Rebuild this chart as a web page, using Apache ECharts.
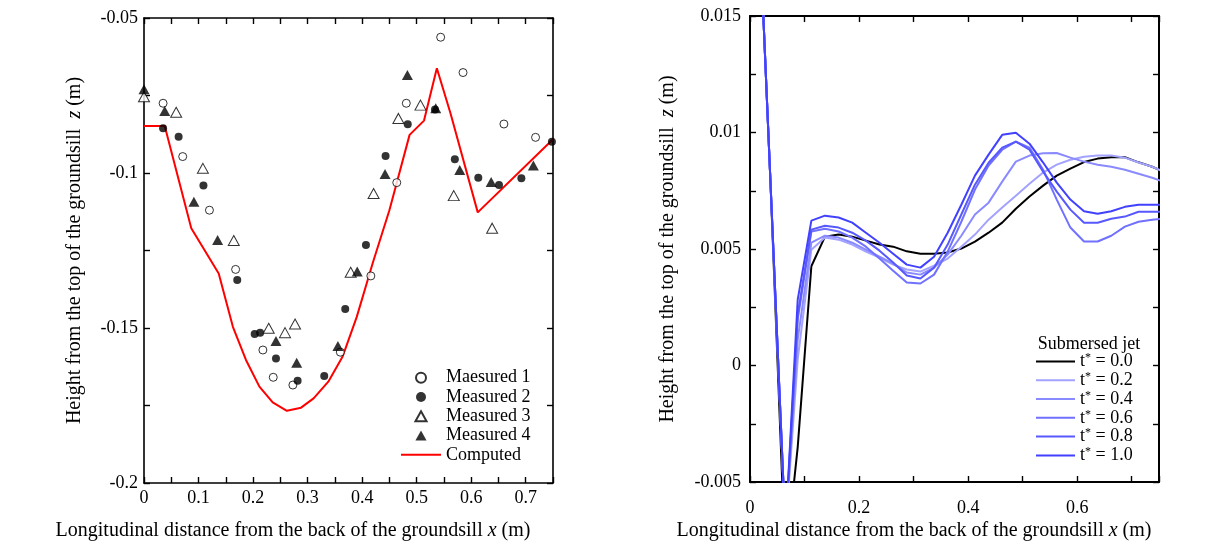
<!DOCTYPE html>
<html>
<head>
<meta charset="utf-8">
<script src="https://cdn.jsdelivr.net/npm/echarts@6/dist/echarts.min.js"></script>
<style>
  html, body { margin: 0; padding: 0; background: #fff; }
  #chart { width: 1208px; height: 549px; }
</style>
</head>
<body>
<div id="chart"></div>
<script>
// ---- Left panel: bed profile behind the groundsill ----
const m1X = [0.035, 0.071, 0.120, 0.168, 0.218, 0.237, 0.273, 0.360, 0.416, 0.4635, 0.481, 0.544, 0.585, 0.660, 0.718];
const m1Y = [-0.0775, -0.0947, -0.112, -0.1311, -0.1571, -0.1659, -0.1684, -0.1578, -0.1332, -0.1031, -0.0775, -0.0562, -0.0676, -0.0842, -0.0885];

const m2X = [0.035, 0.0635, 0.109, 0.171, 0.203, 0.213, 0.242, 0.2817, 0.3305, 0.369, 0.407, 0.443, 0.4836, 0.5336, 0.570, 0.613, 0.651, 0.692, 0.748];
const m2Y = [-0.0856, -0.0883, -0.104, -0.1345, -0.1519, -0.1515, -0.1598, -0.167, -0.1655, -0.1439, -0.1232, -0.0945, -0.0843, -0.0795, -0.0956, -0.1015, -0.1039, -0.1017, -0.0899];

const m3X = [0, 0.059, 0.108, 0.1646, 0.2287, 0.2586, 0.277, 0.379, 0.421, 0.4665, 0.507, 0.568, 0.6384];
const m3Y = [-0.0754, -0.0804, -0.0985, -0.1218, -0.1501, -0.1515, -0.1487, -0.132, -0.1066, -0.0824, -0.0781, -0.1073, -0.1178];

const m4X = [0, 0.038, 0.0915, 0.135, 0.242, 0.28, 0.3556, 0.391, 0.442, 0.483, 0.535, 0.579, 0.6366, 0.714];
const m4Y = [-0.073, -0.080, -0.1093, -0.1216, -0.1542, -0.1612, -0.1558, -0.1318, -0.1003, -0.0684, -0.0791, -0.099, -0.1029, -0.0976];

const compX = [0, 0.038, 0.0867, 0.137, 0.163, 0.187, 0.2116, 0.236, 0.262, 0.288, 0.311, 0.338, 0.364, 0.39, 0.42, 0.45, 0.487, 0.5135, 0.537, 0.562, 0.612, 0.75];
const compY = [-0.0848, -0.0848, -0.1178, -0.1324, -0.1496, -0.1603, -0.1689, -0.174, -0.1767, -0.1757, -0.1727, -0.1673, -0.1593, -0.1465, -0.1287, -0.112, -0.0877, -0.0831, -0.0662, -0.0807, -0.1127, -0.0891];

const leftNames = ['Maesured 1', 'Measured 2', 'Measured 3', 'Measured 4', 'Computed'];

// ---- Right panel: submersed jet, bed elevation at successive times ----
const jetX = [0.0125, 0.0375, 0.065, 0.0875, 0.1125, 0.1375, 0.1625, 0.1875, 0.2125, 0.2375, 0.2625, 0.2875, 0.3125,
              0.3375, 0.3625, 0.3875, 0.4125, 0.4375, 0.4625, 0.4875, 0.5125, 0.5375, 0.5625, 0.5875, 0.6125, 0.6375,
              0.6625, 0.6875, 0.7125, 0.7375, 0.7625];
const t00 = [0.0215, 0.0079, -0.0085, -0.0035, 0.00426, 0.00553, 0.00562, 0.00553, 0.00536, 0.00519, 0.00510, 0.00490, 0.00480,
             0.00480, 0.00485, 0.00502, 0.00532, 0.00570, 0.00613, 0.00673, 0.00725, 0.00772, 0.00815, 0.00845, 0.00873, 0.00888,
             0.00894, 0.00894, 0.00872, 0.00853, 0.00828];
const t02 = [0.0215, 0.0079, -0.0071, 0.00026, 0.00497, 0.00549, 0.00540, 0.00519, 0.00489, 0.00463, 0.00433, 0.00412, 0.00403,
             0.00429, 0.00459, 0.00510, 0.00562, 0.00626, 0.00678, 0.00729, 0.00780, 0.00828, 0.00862, 0.00883, 0.00896, 0.00901,
             0.00901, 0.00892, 0.00871, 0.00853, 0.00828];
const t04 = [0.0215, 0.0079, -0.0071, 0.00111, 0.00527, 0.00557, 0.00549, 0.00527, 0.00497, 0.00467, 0.00437, 0.00399, 0.00390,
             0.00420, 0.00476, 0.00557, 0.00648, 0.00699, 0.00789, 0.00875, 0.00901, 0.00911, 0.00912, 0.00892, 0.00875, 0.00862,
             0.00853, 0.00840, 0.00823, 0.00806, 0.00785];
const t06 = [0.0215, 0.0079, -0.0071, 0.00197, 0.00575, 0.00587, 0.00575, 0.00549, 0.00510, 0.00459, 0.00407, 0.00356, 0.00352,
             0.00390, 0.00489, 0.00617, 0.00755, 0.00858, 0.00926, 0.00961, 0.00935, 0.00840, 0.00712, 0.00592, 0.00532, 0.00532,
             0.00557, 0.00596, 0.00617, 0.00626, 0.00630];
const t08 = [0.0215, 0.0079, -0.0071, 0.00219, 0.00583, 0.00600, 0.00592, 0.00570, 0.00536, 0.00493, 0.00442, 0.00386, 0.00373,
             0.00420, 0.00519, 0.00648, 0.00776, 0.00870, 0.00935, 0.00961, 0.00926, 0.00832, 0.00746, 0.00669, 0.00613, 0.00613,
             0.00630, 0.00639, 0.00660, 0.00660, 0.00660];
const t10 = [0.0215, 0.0079, -0.0071, 0.00283, 0.00622, 0.00643, 0.00635, 0.00613, 0.00570, 0.00527, 0.00480, 0.00433, 0.00420,
             0.00467, 0.00570, 0.00690, 0.00815, 0.00905, 0.00990, 0.00999, 0.00952, 0.00871, 0.00785, 0.00712, 0.00662, 0.00651,
             0.00662, 0.00681, 0.00690, 0.00690, 0.00690];
const jetSeries = [t00, t02, t04, t06, t08, t10];
const jetLabels = ['0.0', '0.2', '0.4', '0.6', '0.8', '1.0'];
const jetColors = ['#000000', '#a3a3ff', '#8a8aff', '#7171ff', '#5858ff', '#4141ff'];

const FONT = 'Liberation Serif, Times New Roman, serif';
const zip = (xs, ys) => xs.map((x, i) => [x, ys[i]]);

// legend glyphs
const ICON_LINE_L = 'path://M0,0 L40,0 L40,2 L0,2 Z';
const ICON_LINE_R = 'path://M0,0 L39,0 L39,2 L0,2 Z';
const ICON_TRI = 'path://M5,0 L10,9 L0,9 Z';
const ICON_DOT = 'path://M4,0 A4,4 0 1 1 3.999,0 Z';

function stepLabel(step) {
  return function (v) {
    const k = Math.round(v / step);
    if (Math.abs(k * step - v) > 1e-9) return '';
    return String(+(k * step).toFixed(4));
  };
}

function frameAxis(extra) {
  return Object.assign({
    type: 'value',
    axisLine: { show: true, onZero: false, lineStyle: { color: '#000', width: 1.6 } },
    axisTick: { show: true, inside: true, length: 6, lineStyle: { color: '#000', width: 1.4 } },
    axisLabel: { show: false },
    splitLine: { show: false }
  }, extra);
}

const labelStyle = { color: '#000', fontFamily: FONT, fontSize: 18 };
const nameStyle = { color: '#000', fontFamily: FONT, fontSize: 20, rich: { i: { fontStyle: 'italic', fontFamily: FONT, fontSize: 20 } } };

const chart = echarts.init(document.getElementById('chart'), null, { renderer: 'canvas' });

const series = [
  { name: leftNames[0], type: 'scatter', xAxisIndex: 0, yAxisIndex: 0, data: zip(m1X, m1Y), clip: false,
    symbol: 'circle', symbolSize: 8, itemStyle: { color: '#fff', borderColor: '#000', borderWidth: 1 } },
  { name: leftNames[1], type: 'scatter', xAxisIndex: 0, yAxisIndex: 0, data: zip(m2X, m2Y), clip: false,
    symbol: 'circle', symbolSize: 8, itemStyle: { color: '#000' } },
  { name: leftNames[2], type: 'scatter', xAxisIndex: 0, yAxisIndex: 0, data: zip(m3X, m3Y), clip: false,
    symbol: 'triangle', symbolSize: [11, 10], itemStyle: { color: '#fff', borderColor: '#000', borderWidth: 1 } },
  { name: leftNames[3], type: 'scatter', xAxisIndex: 0, yAxisIndex: 0, data: zip(m4X, m4Y), clip: false,
    symbol: 'triangle', symbolSize: [11, 10], itemStyle: { color: '#000' } },
  { name: leftNames[4], type: 'line', xAxisIndex: 0, yAxisIndex: 0, data: zip(compX, compY),
    symbol: 'none', lineStyle: { color: '#ff0000', width: 2 }, itemStyle: { color: '#ff0000' }, z: 1 }
];

jetSeries.forEach((ys, i) => {
  series.push({
    name: 't*=' + jetLabels[i], type: 'line', xAxisIndex: 2, yAxisIndex: 2,
    data: zip(jetX, ys), symbol: 'none', clip: true,
    lineStyle: { color: jetColors[i], width: 2 }, itemStyle: { color: jetColors[i] },
    z: 2 + i
  });
});

chart.setOption({
  animation: false,
  backgroundColor: '#fff',
  grid: [
    { left: 144, top: 18, right: 655, bottom: 66 },
    { left: 750, top: 16, right: 49, bottom: 67 }
  ],
  xAxis: [
    frameAxis({ gridIndex: 0, position: 'bottom', min: 0, max: 0.75, interval: 0.05,
      axisLabel: Object.assign({ show: true, margin: 6, formatter: stepLabel(0.1) }, labelStyle) }),
    frameAxis({ gridIndex: 0, position: 'top', min: 0, max: 0.75, interval: 0.05 }),
    frameAxis({ gridIndex: 1, position: 'bottom', min: 0, max: 0.75, interval: 0.1,
      axisLine: { show: true, onZero: false, lineStyle: { color: '#000', width: 2 } },
      axisLabel: Object.assign({ show: true, margin: 17, formatter: stepLabel(0.2) }, labelStyle) }),
    frameAxis({ gridIndex: 1, position: 'top', min: 0, max: 0.75, interval: 0.1,
      axisLine: { show: true, onZero: false, lineStyle: { color: '#000', width: 2 } } })
  ],
  yAxis: [
    frameAxis({ gridIndex: 0, position: 'left', min: -0.2, max: -0.05, interval: 0.025,
      axisLabel: Object.assign({ show: true, margin: 6, formatter: stepLabel(0.05) }, labelStyle),
      name: 'Height from the top of the groundsill  {i|z} (m)', nameLocation: 'middle', nameGap: 59,
      nameTextStyle: nameStyle }),
    frameAxis({ gridIndex: 0, position: 'right', min: -0.2, max: -0.05, interval: 0.025 }),
    frameAxis({ gridIndex: 1, position: 'left', min: -0.005, max: 0.015, interval: 0.0025,
      axisLine: { show: true, onZero: false, lineStyle: { color: '#000', width: 2 } },
      axisLabel: Object.assign({ show: true, margin: 9, formatter: stepLabel(0.005) }, labelStyle),
      name: 'Height from the top of the groundsill  {i|z} (m)', nameLocation: 'middle', nameGap: 72,
      nameTextStyle: nameStyle }),
    frameAxis({ gridIndex: 1, position: 'right', min: -0.005, max: 0.015, interval: 0.0025,
      axisLine: { show: true, onZero: false, lineStyle: { color: '#000', width: 2 } } })
  ],
  legend: [
    {
      data: [
        { name: leftNames[0], icon: ICON_DOT },
        { name: leftNames[1], icon: ICON_DOT },
        { name: leftNames[2], icon: ICON_TRI },
        { name: leftNames[3], icon: ICON_TRI },
        { name: leftNames[4], icon: ICON_LINE_L }
      ],
      orient: 'vertical', left: 401, top: 368,
      itemWidth: 40, itemHeight: 10, itemGap: 0, padding: 0, symbolKeepAspect: true,
      textStyle: { color: '#000', fontFamily: FONT, fontSize: 18, lineHeight: 19.3 },
      inactiveColor: '#000'
    },
    {
      data: jetLabels.map(l => ({ name: 't*=' + l, icon: ICON_LINE_R })),
      orient: 'vertical', left: 1036, top: 352,
      itemWidth: 39, itemHeight: 10, itemGap: 0, padding: 0, symbolKeepAspect: true,
      formatter: function (name) { return '{t|t}{s|*}{e| = ' + name.slice(3) + '}'; },
      textStyle: {
        color: '#000', fontFamily: FONT, fontSize: 18, lineHeight: 18.8,
        rich: {
          t: { fontFamily: FONT, fontSize: 18, color: '#000', lineHeight: 18.8 },
          s: { fontFamily: FONT, fontSize: 12, color: '#000', verticalAlign: 'top', lineHeight: 12 },
          e: { fontFamily: FONT, fontSize: 18, color: '#000', lineHeight: 18.8 }
        }
      }
    }
  ],
  graphic: [
    { type: 'text', x: 293, y: 531, style: {
        text: 'Longitudinal distance from the back of the groundsill {i|x} (m)',
        fill: '#000', font: '20px ' + FONT, align: 'center', verticalAlign: 'middle',
        rich: { i: { fontStyle: 'italic', fontFamily: FONT, fontSize: 20 } } } },
    { type: 'text', x: 914, y: 531, style: {
        text: 'Longitudinal distance from the back of the groundsill {i|x} (m)',
        fill: '#000', font: '20px ' + FONT, align: 'center', verticalAlign: 'middle',
        rich: { i: { fontStyle: 'italic', fontFamily: FONT, fontSize: 20 } } } },
    { type: 'text', x: 1089, y: 344, style: {
        text: 'Submersed jet', fill: '#000', font: '18px ' + FONT, align: 'center', verticalAlign: 'middle' } }
  ],
  series: series
});
</script>
</body>
</html>
